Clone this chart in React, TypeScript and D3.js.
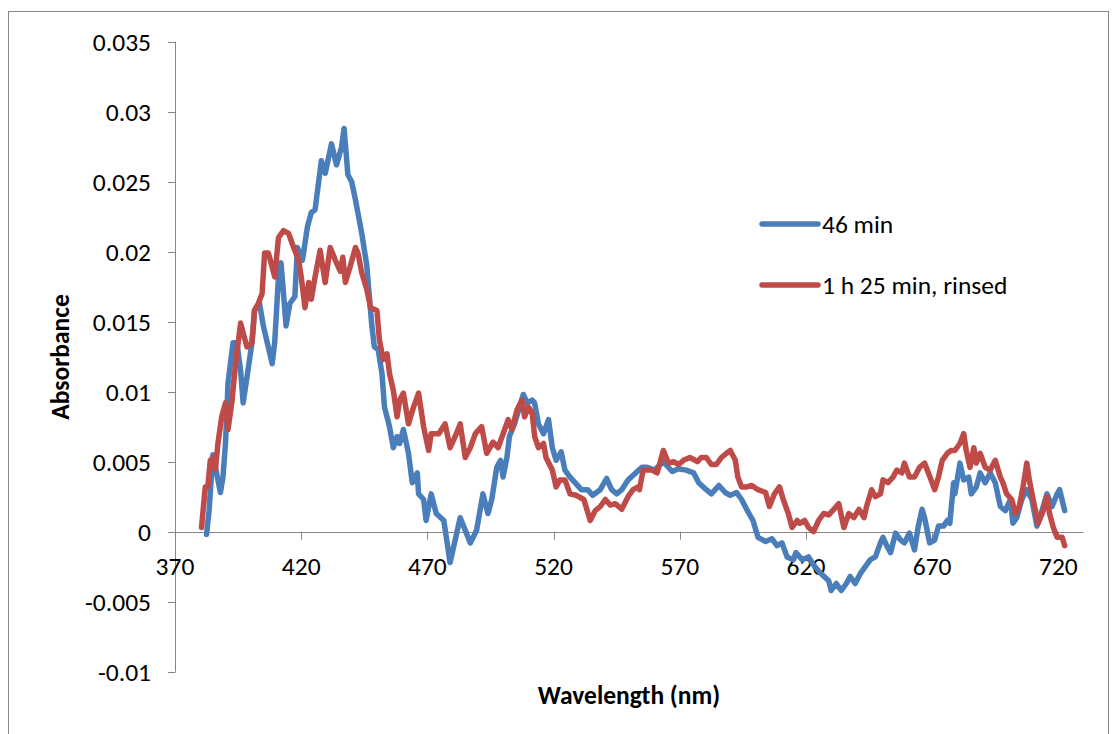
import React from "react";
import * as d3 from "d3";

const blueNm = [382.5,383.5,385,388,389,390,391,393,394.5,396,397,398.5,400.5,401.5,403.5,405,408.5,409.5,411,412,413,414,415.5,417.5,418.5,420.5,422.5,424,425.5,426.5,428,429.5,432,434,436,437,438.5,440,441.5,444,446,447,448,449,450.5,452,453,455,456.5,458,459,460.5,462.5,464,466,466.5,468.5,469.5,471.5,473.5,476.5,479,481,483,485,487,489.5,492,494,495.5,497.5,499,500,501.5,502.5,504.5,506.5,508,509.5,511.5,512.5,514,516,518,519.5,521,523,524.5,526.5,528.5,531,533.5,535.5,538.5,541,543,545,547,549.5,552.5,555,557,560,563.5,567,569.5,572.5,575.5,577.5,580.5,582.5,585.5,588,590,592.5,594.5,596.5,599,601,604,606.5,608.5,610.5,612.5,615,616,618.5,621,623.5,626,629,630,632,634,636,637.5,639.5,641.5,643.5,645.5,647.5,649.5,650.5,652,653.5,655.5,657.5,659,661,663,664.5,666,667,669,671,672.5,674.5,676,677,678.5,679,681,682.5,684.5,685.5,687.5,689,691,693,695,697,699,701,702,703.5,705.5,707.5,709.5,711.5,713.5,715.5,717.5,719.5,720.5,722.5];
const blueAbs = [-0.0002,0.0015,0.0055,0.0028,0.0039,0.0063,0.0106,0.0135,0.0135,0.0115,0.0092,0.011,0.0135,0.0158,0.0163,0.0147,0.012,0.0135,0.0182,0.0192,0.017,0.0147,0.0163,0.0168,0.0203,0.0194,0.0218,0.0228,0.023,0.0244,0.0265,0.0256,0.0277,0.0262,0.0275,0.0288,0.0255,0.025,0.0237,0.0213,0.019,0.0168,0.0147,0.0132,0.013,0.0113,0.0089,0.0075,0.006,0.0068,0.0063,0.0073,0.0056,0.0035,0.0042,0.0027,0.0023,0.0008,0.0027,0.0013,0.0008,-0.0022,-0.0006,0.001,0.0001,-0.0008,0.0001,0.0027,0.0013,0.0023,0.0046,0.0051,0.0039,0.0053,0.0068,0.0077,0.0089,0.0098,0.0092,0.0094,0.0092,0.0077,0.007,0.008,0.006,0.0051,0.0057,0.0044,0.0039,0.0035,0.003,0.003,0.0026,0.003,0.0038,0.003,0.0027,0.003,0.0037,0.0042,0.0046,0.0046,0.0044,0.005,0.0043,0.0045,0.0044,0.0042,0.0035,0.003,0.0027,0.0033,0.0028,0.0026,0.0028,0.0023,0.0016,0.0008,-0.0004,-0.0007,-0.0005,-0.001,-0.0008,-0.0018,-0.002,-0.0015,-0.002,-0.0018,-0.0025,-0.003,-0.0035,-0.0042,-0.0037,-0.0042,-0.0037,-0.0032,-0.0037,-0.003,-0.0025,-0.002,-0.0018,-0.0008,-0.0004,-0.001,-0.0015,-0.0001,-0.0006,-0.0008,-0.0001,-0.0013,0.0004,0.0016,0.001,-0.0008,-0.0006,0.0004,0.0004,0.0008,0.0006,0.0035,0.0027,0.0049,0.0037,0.0039,0.0027,0.0032,0.0042,0.0035,0.0042,0.0035,0.0018,0.0015,0.0023,0.0006,0.001,0.0023,0.003,0.0023,0.0004,0.0015,0.0027,0.0018,0.0027,0.003,0.0015];

const redNm = [380.5,382,383,384,385.5,386,387,388.5,390,391,392.5,394,396,397,398.5,400.5,401.5,403,404.5,405.5,407,408.5,409.5,411,413,415,417,419,420,421.5,423,424,425.5,427.5,429.5,431.5,433.5,435.5,436.5,437.5,439.5,441.5,442.5,444,446,447.5,450,451,452.5,454,455,456.5,458,459,460.5,462.5,464.5,466.5,468.5,470.5,471.5,474.5,477,479,481,483,485,487,489,491.5,493.5,496,498,500,502,503.5,505.5,507.5,508.5,510,511.5,512.5,514,516,517,519.5,521,522.5,524.5,526.5,529,532,534.5,536.5,538.5,540.5,542.5,544.5,547,549.5,551.5,553.5,554,555.5,557,559,561,563.5,565.5,567.5,569.5,571.5,574,577,578.5,580.5,582.5,584.5,586.5,588.5,590,592,593,594.5,596.5,598.5,601,604,605.5,607.5,609.5,611,613,614.5,616.5,617.5,619.5,621,623,625,627,629,631,633,635,637,639,641,643,644,646,647.5,649.5,650.5,652.5,654.5,656,658,659,661,663,665,667,668.5,670,671,672.5,674,676,677.5,679,681,682.5,683.5,685,686.5,687.5,689,691,693,695,697,698,699.5,701.5,703,704.5,706,707.5,708.5,710,712,714,715.5,716.5,718,719.5,721.5,722.5];
const redAbs = [0.0003,0.0032,0.0032,0.0051,0.0053,0.0044,0.0063,0.0082,0.0092,0.0073,0.0092,0.012,0.0149,0.0142,0.0132,0.0135,0.0158,0.0163,0.017,0.0199,0.0199,0.0189,0.0182,0.021,0.0215,0.0213,0.0203,0.0194,0.0182,0.016,0.0178,0.0166,0.0182,0.0201,0.0178,0.0203,0.0194,0.0186,0.0196,0.0178,0.019,0.0203,0.0199,0.0185,0.0173,0.016,0.0158,0.0137,0.0123,0.0127,0.0113,0.0101,0.0082,0.0094,0.0099,0.0077,0.0089,0.0099,0.0075,0.0058,0.007,0.007,0.0077,0.006,0.0068,0.0077,0.0053,0.006,0.007,0.0075,0.0056,0.0064,0.006,0.007,0.008,0.0073,0.0087,0.0094,0.0082,0.0089,0.0085,0.0068,0.006,0.0063,0.0053,0.0044,0.0032,0.0037,0.0037,0.0027,0.0026,0.0023,0.0008,0.0015,0.0018,0.0023,0.0019,0.002,0.0016,0.0025,0.003,0.0032,0.003,0.0044,0.0044,0.0044,0.0042,0.0058,0.0049,0.005,0.0048,0.0051,0.0053,0.005,0.0053,0.0053,0.0048,0.0048,0.0053,0.0056,0.0058,0.0051,0.0039,0.0032,0.0032,0.0033,0.003,0.0028,0.0018,0.0027,0.0032,0.0023,0.0013,0.0003,0.0008,0.0006,0.0008,0.0003,0,0.0008,0.0013,0.0012,0.0016,0.002,0.0003,0.0013,0.001,0.0016,0.001,0.0018,0.003,0.0025,0.0027,0.0037,0.0035,0.0039,0.0044,0.0042,0.0049,0.0039,0.0039,0.0046,0.0049,0.0042,0.0035,0.003,0.0039,0.0051,0.0056,0.0058,0.0058,0.0063,0.007,0.0058,0.0046,0.006,0.0049,0.0056,0.0046,0.0044,0.0051,0.0039,0.0035,0.0027,0.0023,0.0013,0.0018,0.0032,0.0049,0.0037,0.0023,0.0006,0.0015,0.0025,0.0013,0.0003,-0.0004,-0.0004,-0.001];

const xTicks = [370, 420, 470, 520, 570, 620, 670, 720];
const yTicks = [-0.01, -0.005, 0, 0.005, 0.01, 0.015, 0.02, 0.025, 0.03, 0.035];
const yTickLabels = ["-0.01", "-0.005", "0", "0.005", "0.01", "0.015", "0.02", "0.025", "0.03", "0.035"];
const seriesNames = ["46 min", "1 h 25 min, rinsed"];
const seriesColors = ["#4A7EBB", "#BE4B48"];

const FONT = "Carlito, Calibri, Lato, 'Open Sans', sans-serif";
const FS = 25.5;

export default function App() {
  const W = 1118, H = 734;
  const x = d3.scaleLinear().domain([370, 730]).range([175, 1083.6]);
  const y = d3.scaleLinear().domain([-0.01, 0.035]).range([671.7, 41.7]);
  const line = d3.line<[number, number]>().x(d => x(d[0])).y(d => y(d[1])).curve(d3.curveLinear);
  const blue: [number, number][] = blueNm.map((n, i) => [n, blueAbs[i]]);
  const red: [number, number][] = redNm.map((n, i) => [n, redAbs[i]]);
  const y0 = y(0);
  const axisColor = "#868686";
  return (
    <svg width={W} height={H} style={{ position: "absolute", left: 0, top: 0, background: "#fff" }} fontFamily={FONT}>
      <rect x={0} y={0} width={W} height={H} fill="#fff" />
      <rect x={8.5} y={11.5} width={1100} height={740} fill="none" stroke="#868686" strokeWidth={1} />
      {/* y axis */}
      <line x1={175.5} x2={175.5} y1={y(0.035)} y2={y(-0.01)} stroke={axisColor} />
      {yTicks.map((t, i) => (
        <g key={"yt" + i}>
          <line x1={168} x2={175.5} y1={Math.round(y(t)) + 0.5} y2={Math.round(y(t)) + 0.5} stroke={axisColor} />
          <text x={151} y={y(t)} dy="0.35em" textAnchor="end" fontSize={FS} fill="#000">{yTickLabels[i]}</text>
        </g>
      ))}
      {/* x axis */}
      <line x1={175} x2={x(730)} y1={Math.round(y0) + 0.5} y2={Math.round(y0) + 0.5} stroke={axisColor} />
      {xTicks.map((t, i) => (
        <g key={"xt" + i}>
          <line x1={Math.round(x(t)) + 0.5} x2={Math.round(x(t)) + 0.5} y1={y0} y2={y0 + 8} stroke={axisColor} />
          <text x={x(t)} y={575} textAnchor="middle" fontSize={FS} fill="#000">{t}</text>
        </g>
      ))}
      {/* series */}
      <path d={line(blue) || ""} fill="none" stroke={seriesColors[0]} strokeWidth={5.5} strokeLinejoin="round" strokeLinecap="round" />
      <path d={line(red) || ""} fill="none" stroke={seriesColors[1]} strokeWidth={5.5} strokeLinejoin="round" strokeLinecap="round" />
      {/* titles */}
      <text x={629} y={695} dy="0.35em" textAnchor="middle" fontSize={FS} fontWeight="bold" fill="#000">Wavelength (nm)</text>
      <text transform="translate(60,357) rotate(-90)" dy="0.35em" textAnchor="middle" fontSize={FS} fontWeight="bold" fill="#000">Absorbance</text>
      {/* legend */}
      {seriesNames.map((n, i) => (
        <g key={"lg" + i}>
          <line x1={762} x2={818} y1={224 + i * 61} y2={224 + i * 61} stroke={seriesColors[i]} strokeWidth={5.5} strokeLinecap="round" />
          <text x={822} y={224 + i * 61} dy="0.35em" fontSize={FS} fill="#000">{n}</text>
        </g>
      ))}
    </svg>
  );
}
